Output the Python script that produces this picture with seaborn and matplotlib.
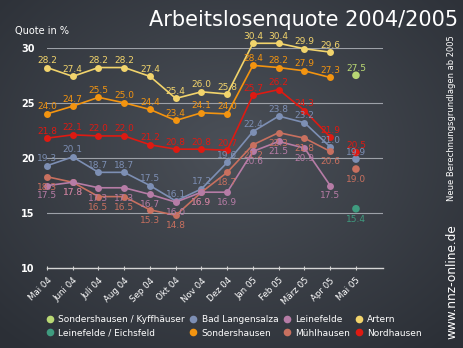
import numpy as np
import pandas as pd
import matplotlib
matplotlib.use("Agg")
import matplotlib.pyplot as plt
import matplotlib.transforms as mtransforms
import seaborn as sns
from matplotlib.lines import Line2D

# --- data -------------------------------------------------------------
months = ["Mai 04", "Juni 04", "Juli 04", "Aug 04", "Sep 04", "Okt 04", "Nov 04",
          "Dez 04", "Jan 05", "Feb 05", "März 05", "Apr 05", "Mai 05"]

# monthly rates May 2004 – April 2005 (old basis)
artern = [28.2, 27.4, 28.2, 28.2, 27.4, 25.4, 26.0, 25.8, 30.4, 30.4, 29.9, 29.6]
sondershausen = [24.0, 24.7, 25.5, 25.0, 24.4, 23.4, 24.1, 24.0, 28.4, 28.2, 27.9, 27.3]
nordhausen = [21.8, 22.1, 22.0, 22.0, 21.2, 20.8, 20.8, 20.7, 25.7, 26.2, 24.3, 21.9]
bad_langensalza = [19.3, 20.1, 18.7, 18.7, 17.5, 16.1, 17.2, 19.6, 22.4, 23.8, 23.2, 21.0]
muehlhausen = [18.3, 17.8, 16.5, 16.5, 15.3, 14.8, 16.9, 18.7, 21.2, 22.3, 21.8, 20.6]
leinefelde = [17.5, 17.8, 17.3, 17.3, 16.7, 16.0, 16.9, 16.9, 20.6, 21.5, 20.9, 17.5]

# May 2005 (new basis)
mai05_regions = ["Sondershausen / Kyffhäuser", "Leinefelde / Eichsfeld",
                 "Bad Langensalza", "Mühlhausen", "Nordhausen"]
mai05_values = [27.5, 15.4, 19.9, 19.0, 20.5]

y_ticks = [10, 15, 20, 25, 30]

colors = {
    "Sondershausen / Kyffhäuser": "#b9d874",
    "Leinefelde / Eichsfeld": "#3f9b7f",
    "Bad Langensalza": "#7d8fb4",
    "Sondershausen": "#f39410",
    "Leinefelde": "#b67ca6",
    "Mühlhausen": "#c8705f",
    "Artern": "#f2d46c",
    "Nordhausen": "#de1a12",
}

series = [
    ("Artern", artern, "above"),
    ("Sondershausen", sondershausen, "above"),
    ("Nordhausen", nordhausen, "above"),
    ("Bad Langensalza", bad_langensalza, "above"),
    ("Mühlhausen", muehlhausen, "below"),
    ("Leinefelde", leinefelde, "below"),
]
mai05_side = {"Sondershausen / Kyffhäuser": "above", "Leinefelde / Eichsfeld": "below",
              "Bad Langensalza": "above", "Mühlhausen": "below", "Nordhausen": "above"}

rows = []
for name, vals, _ in series:
    for i, v in enumerate(vals):
        rows.append({"region": name, "pos": i, "value": v})
df = pd.DataFrame(rows)
df_mai = pd.DataFrame({"region": mai05_regions,
                       "pos": [len(months) - 1] * len(mai05_regions),
                       "value": mai05_values})

# --- figure -----------------------------------------------------------
fig = plt.figure(figsize=(4.64, 3.48), dpi=100)

# chalkboard-like backdrop
bg = fig.add_axes([0, 0, 1, 1], zorder=-10)
yy, xx = np.mgrid[0:348, 0:464]
r = np.sqrt(((xx - 230) / 330.0) ** 2 + ((yy - 150) / 260.0) ** 2)
r = np.clip(r, 0, 1)
c_in = np.array([0x4b, 0x50, 0x58]) / 255.0
c_out = np.array([0x2b, 0x2f, 0x36]) / 255.0
img = c_in[None, None, :] * (1 - r[..., None]) + c_out[None, None, :] * r[..., None]
bg.imshow(img, aspect="auto", extent=[0, 1, 0, 1])
bg.axis("off")

ax = fig.add_axes([47 / 464, 1 - 268.3 / 348, 336 / 464, (268.3 - 47.7) / 348])
ax.set_facecolor("none")

for name, vals, side in series:
    d = df[df.region == name]
    sns.lineplot(data=d, x="pos", y="value", color=colors[name], marker="o",
                 markersize=5, markeredgewidth=0, linewidth=1.2, ax=ax,
                 legend=False, sort=False, zorder=3)

sns.scatterplot(data=df_mai, x="pos", y="value", hue="region",
                palette=colors, s=30, linewidth=0, ax=ax, legend=False, zorder=3)

for coll in ax.collections:
    coll.set_clip_on(False)
for ln in ax.lines:
    ln.set_clip_on(False)


def label(x, v, c, side):
    off = 5 if side == "above" else -7.5
    ax.annotate(f"{v:.1f}", (x, v), xytext=(0, off), textcoords="offset points",
                ha="center", va="center", fontsize=6.5, color=c, zorder=4,
                annotation_clip=False)


for name, vals, side in series:
    for i, v in enumerate(vals):
        label(i, v, colors[name], side)
for name, v in zip(mai05_regions, mai05_values):
    label(len(months) - 1, v, colors[name], mai05_side[name])

ax.set_xlim(0, 13.05)
ax.set_ylim(10, 30)
ax.set_yticks(y_ticks)
ax.set_yticklabels([str(t) for t in y_ticks], fontsize=7, color="white",
                   fontweight="bold")
ax.set_xticks(range(len(months)))
ax.set_xticklabels(months, rotation=45, ha="right", rotation_mode="anchor",
                   fontsize=6.2, color="white")
shift = mtransforms.ScaledTranslation(4 / 100, 0, fig.dpi_scale_trans)
for lbl in ax.get_xticklabels():
    lbl.set_transform(lbl.get_transform() + shift)
ax.tick_params(axis="y", length=0, pad=9)
ax.tick_params(axis="x", length=3, direction="inout", color="#cfcfcf", pad=4)
ax.set_xlabel("")
ax.set_ylabel("")
for s in ["top", "right", "left"]:
    ax.spines[s].set_visible(False)
ax.spines["bottom"].set_color("#d5d5d5")
ax.spines["bottom"].set_linewidth(1.0)
for t in y_ticks[1:]:
    ax.axhline(t, color="#9da1a8", linewidth=0.8, zorder=1)

# titles and side notes
fig.text(458 / 464, 1 - 20 / 348, "Arbeitslosenquote 2004/2005", ha="right",
         va="center", fontsize=15, color="white")
fig.text(15 / 464, 1 - 31 / 348, "Quote in %", ha="left", va="center",
         fontsize=7, color="white")
fig.text(452 / 464, 1 - 118 / 348, "Neue Berechnungsgrundlagen ab 2005",
         rotation=90, ha="center", va="center", fontsize=6, color="white")
fig.text(452 / 464, 1 - 282 / 348, "www.nnz-online.de", rotation=90,
         ha="center", va="center", fontsize=8.7, color="white")

# legend (column-major order for a 2 x 4 grid)
order = ["Sondershausen / Kyffhäuser", "Leinefelde / Eichsfeld",
         "Bad Langensalza", "Sondershausen",
         "Leinefelde", "Mühlhausen",
         "Artern", "Nordhausen"]
handles = [Line2D([], [], linestyle="none", marker="o", markersize=5.5,
                  markeredgewidth=0, color=colors[n]) for n in order]
leg = fig.legend(handles, order, ncol=4, loc="center left",
                 bbox_to_anchor=(46 / 464, 1 - 326.5 / 348), frameon=False,
                 fontsize=6.5, labelcolor="white", handlelength=0.8,
                 handletextpad=0.5, columnspacing=0.6, borderaxespad=0,
                 borderpad=0, labelspacing=0.45)

fig.savefig("out.png", dpi=100)
